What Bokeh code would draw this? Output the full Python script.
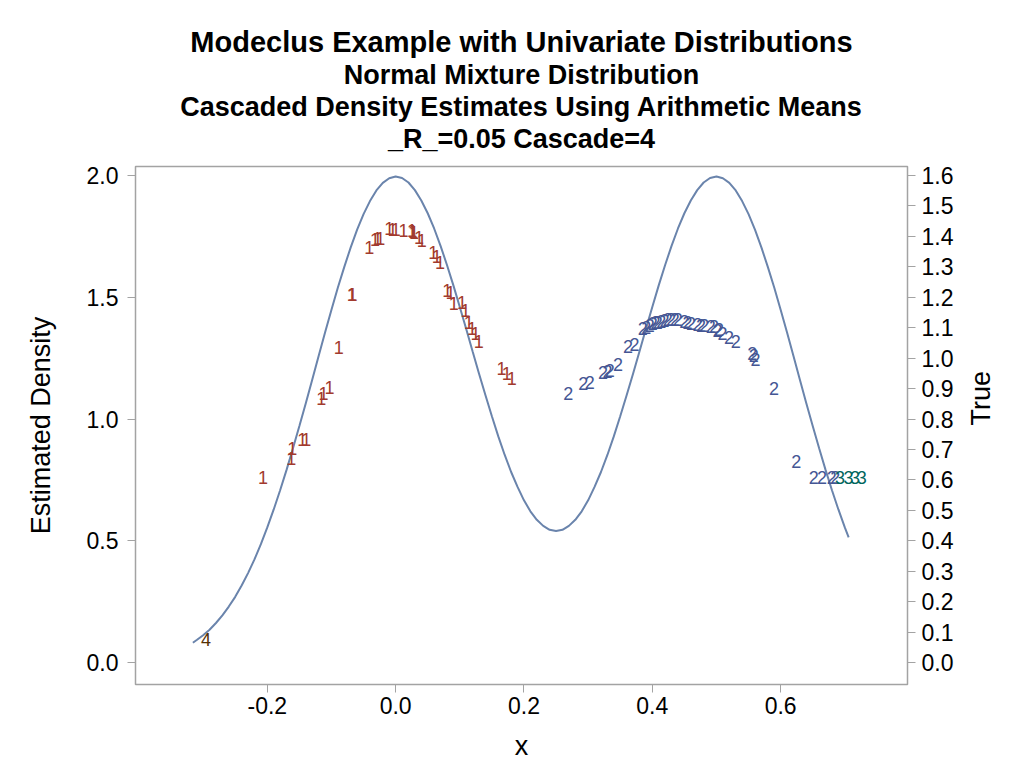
import math
from bokeh.plotting import figure
from bokeh.models import Range1d, LinearAxis, Title, FixedTicker, NumeralTickFormatter, ColumnDataSource
from bokeh.core.properties import value
from bokeh.embed import file_html
from bokeh.resources import INLINE

# ---- data ----
c1_x = [-0.2065, -0.1625, -0.161, -0.1454, -0.1392, -0.1160, -0.1124, -0.1031, -0.0887,
        -0.0685, -0.0672, -0.0411, -0.0322, -0.0282, -0.0240, -0.0101, -0.0050, 0.0003,
        0.0121, 0.0255, 0.0270, 0.0287, 0.0364, 0.0406, 0.0586, 0.0639, 0.0690, 0.0803,
        0.0856, 0.0907, 0.1036, 0.1088, 0.1140, 0.1190, 0.1243, 0.1295, 0.165, 0.173, 0.181]
c1_y = [0.761, 0.838, 0.879, 0.915, 0.915, 1.083, 1.103, 1.131, 1.295,
        1.510, 1.512, 1.703, 1.737, 1.740, 1.742, 1.781, 1.778, 1.778,
        1.774, 1.774, 1.771, 1.767, 1.747, 1.733, 1.683, 1.669, 1.644, 1.528,
        1.521, 1.473, 1.477, 1.446, 1.398, 1.370, 1.350, 1.318, 1.207, 1.187, 1.166]

c2_x = [0.269, 0.2922, 0.3026, 0.3233, 0.3300, 0.3337, 0.3465, 0.362, 0.3724, 0.3853,
        0.3904, 0.3960, 0.4008, 0.4050, 0.4085, 0.4140, 0.4189, 0.4240, 0.4291, 0.4350,
        0.4395, 0.4499, 0.4550, 0.4602, 0.4705, 0.4760, 0.4809, 0.4912, 0.4960, 0.5016,
        0.5040, 0.5093, 0.5197, 0.5299, 0.5558, 0.5580, 0.5610, 0.5895, 0.6245, 0.6515,
        0.6643, 0.6798, 0.6850]
c2_y = [1.103, 1.145, 1.151, 1.192, 1.195, 1.199, 1.224, 1.298, 1.306, 1.370,
        1.377, 1.386, 1.391, 1.395, 1.398, 1.402, 1.405, 1.407, 1.407, 1.408,
        1.407, 1.402, 1.398, 1.393, 1.388, 1.386, 1.384, 1.380, 1.378, 1.363,
        1.368, 1.350, 1.336, 1.320, 1.268, 1.262, 1.243, 1.124, 0.827, 0.761,
        0.761, 0.759, 0.759]

c3_x = [0.6927, 0.7057, 0.7160, 0.7264]
c3_y = [0.759, 0.759, 0.759, 0.759]

c4_x = [-0.2954]
c4_y = [0.095]

curve_x = [-0.316, -0.31, -0.30, -0.29, -0.28, -0.27, -0.26, -0.25, -0.24, -0.23, -0.22,
           -0.21, -0.20, -0.19, -0.18, -0.17, -0.16, -0.15, -0.14, -0.13, -0.12, -0.11,
           -0.10, -0.09, -0.08, -0.07, -0.06, -0.05, -0.04, -0.03, -0.02, -0.01, 0.00,
           0.01, 0.02, 0.03, 0.04, 0.05, 0.06, 0.07, 0.08, 0.09, 0.10, 0.11, 0.12, 0.13,
           0.14, 0.15, 0.16, 0.17, 0.18, 0.19, 0.20, 0.21, 0.22, 0.23, 0.24, 0.25, 0.26,
           0.27, 0.28, 0.29, 0.30, 0.31, 0.32, 0.33, 0.34, 0.35, 0.36, 0.37, 0.38, 0.39,
           0.40, 0.41, 0.42, 0.43, 0.44, 0.45, 0.46, 0.47, 0.48, 0.49, 0.50, 0.51, 0.52,
           0.53, 0.54, 0.55, 0.56, 0.57, 0.58, 0.59, 0.60, 0.61, 0.62, 0.63, 0.64, 0.65,
           0.66, 0.67, 0.68, 0.69, 0.70, 0.706]
curve_true = [0.065, 0.074, 0.090, 0.108, 0.130, 0.155, 0.184, 0.216, 0.253, 0.294, 0.339,
              0.389, 0.444, 0.503, 0.566, 0.633, 0.704, 0.777, 0.852, 0.929, 1.007, 1.084,
              1.159, 1.232, 1.300, 1.364, 1.422, 1.473, 1.516, 1.551, 1.576, 1.591, 1.597,
              1.592, 1.577, 1.552, 1.518, 1.476, 1.426, 1.369, 1.306, 1.239, 1.168, 1.096, 1.022, 0.949,
              0.878, 0.809, 0.743, 0.682, 0.626, 0.577, 0.533, 0.497, 0.469, 0.449, 0.436, 0.432, 0.436,
              0.449, 0.469, 0.497, 0.533, 0.577, 0.626, 0.682, 0.743, 0.809, 0.878, 0.949, 1.022, 1.096,
              1.168, 1.239, 1.306, 1.369, 1.426, 1.476, 1.518, 1.552, 1.577, 1.592, 1.597, 1.591, 1.576,
              1.551, 1.516, 1.473, 1.422, 1.364, 1.300, 1.232, 1.159, 1.084, 1.007, 0.929, 0.852, 0.777,
              0.704, 0.633, 0.566, 0.503, 0.444, 0.411]

left_ticks = [0.0, 0.5, 1.0, 1.5, 2.0]
right_ticks = [0.0, 0.1, 0.2, 0.3, 0.4, 0.5, 0.6, 0.7, 0.8, 0.9, 1.0, 1.1, 1.2, 1.3, 1.4, 1.5, 1.6]
x_ticks = [-0.2, 0.0, 0.2, 0.4, 0.6]

titles = ["Modeclus Example with Univariate Distributions",
          "Normal Mixture Distribution",
          "Cascaded Density Estimates Using Arithmetic Means",
          "_R_=0.05 Cascade=4"]

FONT = "Liberation Sans"
GRAY = "#A3A3A3"

p = figure(width=1014, height=763, output_backend="svg", toolbar_location=None,
           x_range=Range1d(-0.4054, 0.7977), y_range=Range1d(-0.090, 2.037),
           min_border_left=135, min_border_right=103, min_border_bottom=79, min_border_top=166,
           title=None)
p.extra_y_ranges = {"true": Range1d(-0.090 * 0.8, 2.037 * 0.8)}

p.outline_line_color = GRAY
p.outline_line_width = 1.5
p.xgrid.visible = False
p.ygrid.visible = False
p.background_fill_color = "white"
p.border_fill_color = "white"

# small spacer between frame and the title block
p.add_layout(Title(text=" ", text_font_size="2px", standoff=9), "above")
# titles (first added sits closest to the frame)
sizes = ["29px", "27px", "27px", "27px"]
for i in [3, 2, 1, 0]:
    t = Title(text=titles[i], align="center", text_font=FONT, text_font_size=sizes[i],
              text_font_style="bold", text_color="black", standoff=0)
    p.add_layout(t, "above")

def style_axis(ax, label, ticks, std, lstd):
    ax.axis_label = label
    ax.ticker = FixedTicker(ticks=ticks)
    ax.formatter = NumeralTickFormatter(format="0.0")
    ax.axis_line_color = GRAY
    ax.major_tick_line_color = GRAY
    ax.major_tick_out = 8
    ax.major_tick_in = 0
    ax.minor_tick_line_color = None
    ax.major_label_text_font = FONT
    ax.major_label_text_font_size = "23px"
    ax.major_label_text_color = "black"
    ax.axis_label_text_font = FONT
    ax.axis_label_text_font_size = "27px"
    ax.axis_label_text_font_style = "normal"
    ax.axis_label_text_color = "black"
    ax.major_label_standoff = std
    ax.axis_label_standoff = lstd

style_axis(p.xaxis[0], "x", x_ticks, 4, 14)
style_axis(p.yaxis[0], "Estimated Density", left_ticks, 9, 28)
raxis = LinearAxis(y_range_name="true")
style_axis(raxis, "True", right_ticks, 6, 25)
raxis.axis_label_orientation = math.pi / 2
p.add_layout(raxis, "right")

# true density curve
p.line(curve_x, curve_true, y_range_name="true", line_color="#6A84AC", line_width=2)

# cluster labels as marker characters
groups = [(c1_x, c1_y, "1", "#A23A2E"), (c2_x, c2_y, "2", "#445694"),
          (c3_x, c3_y, "3", "#01665E"), (c4_x, c4_y, "4", "#543005")]
for gx, gy, ch, col in groups:
    src = ColumnDataSource(dict(x=gx, y=gy, t=[ch] * len(gx)))
    p.text(x="x", y="y", text="t", source=src, text_align="center", text_baseline="middle",
           text_font=value(FONT), text_font_size="18px", text_color=col)

open("out.html", "w").write(file_html(p, INLINE))
